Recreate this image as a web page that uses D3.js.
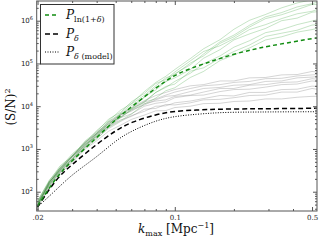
<!DOCTYPE html>
<html>
<head>
<script src="https://d3js.org/d3.v7.min.js"></script>
<style>
  body { margin: 0; background: #fff; }
  svg { display: block; }
</style>
</head>
<body>
<div id="chart"></div>
<script>
// mean / model curves
var kMean = [0.02, 0.025, 0.03, 0.04, 0.05, 0.06, 0.08, 0.1, 0.13, 0.16, 0.2, 0.25, 0.3, 0.4, 0.5, 0.53];
var pLnMean = [46, 227, 537, 1850, 4890, 9570, 26700, 55200, 87000, 120000, 166000, 212000, 256000, 318000, 384000, 394000];
var pDeltaMean = [44, 209, 432, 1306, 2700, 4270, 6400, 7730, 8150, 8500, 8600, 8700, 8750, 8850, 8930, 8930];
var pModel = [44, 113, 255, 641, 1578, 2630, 4640, 5840, 6500, 7010, 7250, 7300, 7350, 7400, 7430, 7430];

// individual realisations
var kRuns = [0.02, 0.023, 0.026, 0.03, 0.035, 0.04, 0.046, 0.053, 0.06, 0.07, 0.08, 0.09, 0.1, 0.12, 0.14, 0.17, 0.2, 0.24, 0.29, 0.35, 0.42, 0.5, 0.53];
var lnRuns = [
  [5.9e1, 1.9e2, 3.6e2, 7.6e2, 1.4e3, 2.7e3, 4.6e3, 8.1e3, 1.15e4, 2.2e4, 3.6e4, 5.0e4, 7.2e4, 1.3e5, 2.2e5, 3.6e5, 6.3e5, 1.02e6, 1.4e6, 2.0e6, 2.6e6, 3.1e6, 3.4e6],
  [5.4e1, 1.6e2, 3.7e2, 6.5e2, 1.45e3, 2.3e3, 4.4e3, 6.8e3, 1.12e4, 1.8e4, 3.0e4, 4.6e4, 5.5e4, 1.02e5, 1.5e5, 2.95e5, 4.2e5, 7.1e5, 1.12e6, 1.38e6, 1.82e6, 2.4e6, 2.4e6],
  [4.9e1, 1.74e2, 3.0e2, 6.6e2, 1.17e3, 2.34e3, 3.8e3, 6.6e3, 8.7e3, 1.66e4, 2.4e4, 3.8e4, 4.6e4, 7.2e4, 1.32e5, 2.1e5, 3.55e5, 4.9e5, 6.6e5, 1.0e6, 1.15e6, 1.58e6, 1.62e6],
  [5.1e1, 1.45e2, 3.4e2, 5.75e2, 1.29e3, 1.95e3, 3.6e3, 5.5e3, 8.5e3, 1.29e4, 2.1e4, 2.75e4, 3.8e4, 5.9e4, 9.8e4, 1.5e5, 2.4e5, 3.4e5, 5.25e5, 6.2e5, 8.1e5, 9.8e5, 1.05e6],
  [4.6e1, 1.35e2, 2.95e2, 5.1e2, 1.07e3, 1.7e3, 3.2e3, 4.6e3, 6.5e3, 1.12e4, 1.55e4, 2.3e4, 2.7e4, 4.7e4, 6.5e4, 1.17e5, 1.58e5, 2.3e5, 3.55e5, 4.2e5, 5.4e5, 6.2e5, 6.6e5],
  [5.6e1, 1.5e2, 3.3e2, 5.6e2, 1.15e3, 2.2e3, 3.4e3, 6.2e3, 1.02e4, 1.6e4, 2.75e4, 3.7e4, 5.75e4, 9.3e4, 1.66e5, 3.2e5, 4.6e5, 7.8e5, 1.23e6, 1.55e6, 2.1e6, 2.5e6, 2.7e6],
  [4.8e1, 1.7e2, 3.2e2, 6.9e2, 1.32e3, 2.0e3, 4.2e3, 5.4e3, 8.1e3, 1.23e4, 2.1e4, 2.9e4, 3.3e4, 6.6e4, 7.9e4, 1.32e5, 1.9e5, 2.7e5, 4.3e5, 5.1e5, 6.0e5, 7.9e5, 8.1e5],
  [6.2e1, 1.78e2, 4.0e2, 6.8e2, 1.55e3, 2.5e3, 5.0e3, 7.2e3, 1.26e4, 2.0e4, 3.4e4, 4.2e4, 6.3e4, 1.15e5, 1.9e5, 2.6e5, 3.8e5, 6.2e5, 8.1e5, 1.12e6, 1.45e6, 1.66e6, 1.82e6]
];
var deltaRuns = [
  [5.5e1, 1.78e2, 3.3e2, 7.1e2, 1.35e3, 2.5e3, 3.9e3, 6.6e3, 9.3e3, 1.35e4, 1.78e4, 2.1e4, 2.45e4, 3.0e4, 3.2e4, 3.9e4, 3.9e4, 4.6e4, 4.7e4, 5.4e4, 5.5e4, 6.5e4, 6.3e4],
  [4.9e1, 1.62e2, 3.5e2, 6.3e2, 1.38e3, 2.2e3, 3.9e3, 5.6e3, 8.1e3, 1.07e4, 1.41e4, 1.7e4, 1.78e4, 2.2e4, 2.6e4, 2.75e4, 3.1e4, 3.2e4, 3.8e4, 3.9e4, 4.6e4, 4.8e4, 4.9e4],
  [4.6e1, 1.58e2, 2.9e2, 6.0e2, 1.1e3, 2.1e3, 3.2e3, 5.4e3, 6.6e3, 1.0e4, 1.17e4, 1.26e4, 1.58e4, 1.78e4, 1.82e4, 2.2e4, 2.45e4, 2.5e4, 2.8e4, 3.2e4, 3.3e4, 3.9e4, 3.8e4],
  [5.1e1, 1.41e2, 3.1e2, 5.4e2, 1.15e3, 1.78e3, 3.0e3, 4.4e3, 6.0e3, 7.6e3, 1.0e4, 1.02e4, 1.2e4, 1.32e4, 1.51e4, 1.78e4, 1.74e4, 2.1e4, 2.1e4, 2.45e4, 2.5e4, 2.95e4, 2.9e4],
  [4.3e1, 1.26e2, 2.7e2, 4.8e2, 1.0e3, 1.55e3, 2.6e3, 3.6e3, 4.9e3, 6.2e3, 7.8e3, 7.9e3, 9.3e3, 1.0e4, 1.15e4, 1.17e4, 1.29e4, 1.32e4, 1.48e4, 1.48e4, 1.62e4, 1.7e4, 1.7e4],
  [5.2e1, 1.51e2, 2.75e2, 5.9e2, 1.26e3, 1.9e3, 3.4e3, 4.8e3, 5.75e3, 8.5e3, 8.9e3, 1.1e4, 1.07e4, 1.2e4, 1.41e4, 1.45e4, 1.58e4, 1.78e4, 1.82e4, 2.14e4, 2.14e4, 2.6e4, 2.5e4],
  [4.7e1, 1.7e2, 3.2e2, 6.8e2, 1.23e3, 2.3e3, 3.5e3, 6.2e3, 7.6e3, 1.15e4, 1.32e4, 1.41e4, 1.7e4, 1.82e4, 2.14e4, 2.6e4, 2.6e4, 3.1e4, 3.2e4, 3.6e4, 3.7e4, 4.4e4, 4.3e4],
  [5.75e1, 1.66e2, 3.6e2, 6.6e2, 1.48e3, 2.3e3, 4.3e3, 6.3e3, 8.7e3, 1.26e4, 1.48e4, 1.82e4, 2.14e4, 2.6e4, 3.0e4, 3.2e4, 3.6e4, 3.8e4, 4.4e4, 4.5e4, 5.1e4, 5.4e4, 5.5e4]
];

var xTicks = [0.02, 0.1, 0.5];
var xTickLabels = [".02", "0.1", "0.5"];
var xMinor = [0.03, 0.04, 0.05, 0.06, 0.07, 0.08, 0.09, 0.2, 0.3, 0.4];
var yTicks = [1e2, 1e3, 1e4, 1e5, 1e6];
var yExp = ["2", "3", "4", "5", "6"];

var W = 320, H = 240;
var pL = 36.7, pR = 317, pT = 1, pB = 211;

var svg = d3.select("#chart").append("svg")
    .attr("width", W).attr("height", H);

var x = d3.scaleLog().domain([0.0198, 0.53]).range([pL, pR]);
var y = d3.scaleLog().domain([35.4, 2.89e6]).range([pB, pT]);

svg.append("clipPath").attr("id", "clip")
  .append("rect").attr("x", pL).attr("y", pT)
  .attr("width", pR - pL).attr("height", pB - pT);

var plot = svg.append("g").attr("clip-path", "url(#clip)");

function lineFor(ks, curve) {
  return d3.line()
    .x(function(d, i) { return x(ks[i]); })
    .y(function(d) { return y(d); })
    .curve(curve);
}

var runLine = lineFor(kRuns, d3.curveLinear);
var meanLine = lineFor(kMean, d3.curveBasis);

plot.selectAll(".grey").data(deltaRuns).enter().append("path")
  .attr("d", runLine).attr("fill", "none")
  .attr("stroke", "#808080").attr("stroke-opacity", 0.42).attr("stroke-width", 0.8);

plot.selectAll(".green").data(lnRuns).enter().append("path")
  .attr("d", runLine).attr("fill", "none")
  .attr("stroke", "#38a038").attr("stroke-opacity", 0.36).attr("stroke-width", 0.8);

plot.append("path").attr("d", meanLine(pModel)).attr("fill", "none")
  .attr("stroke", "#000").attr("stroke-width", 1).attr("stroke-dasharray", "1,1.5");
plot.append("path").attr("d", meanLine(pDeltaMean)).attr("fill", "none")
  .attr("stroke", "#000").attr("stroke-width", 1.5).attr("stroke-dasharray", "5,3");
plot.append("path").attr("d", meanLine(pLnMean)).attr("fill", "none")
  .attr("stroke", "#118c11").attr("stroke-width", 1.5).attr("stroke-dasharray", "4,3");

// frame
svg.append("rect").attr("x", pL).attr("y", pT)
  .attr("width", pR - pL).attr("height", pB - pT)
  .attr("fill", "none").attr("stroke", "#555").attr("stroke-width", 1);

// ticks (inward, all four sides)
function styleAxis(g) {
  g.select(".domain").remove();
  g.selectAll("line").attr("stroke", "#555");
}
svg.append("g").attr("transform", "translate(0," + pB + ")")
  .call(d3.axisBottom(x).tickValues(xTicks).tickSize(-4).tickPadding(4)
    .tickFormat(function(d, i) { return xTickLabels[i]; }))
  .call(styleAxis)
  .selectAll("text").attr("font-family", "DejaVu Serif").attr("font-size", 7).attr("fill", "#222");
svg.append("g").attr("transform", "translate(0," + pB + ")")
  .call(d3.axisBottom(x).tickValues(xMinor).tickSize(-2).tickFormat(""))
  .call(styleAxis);
svg.append("g").attr("transform", "translate(0," + pT + ")")
  .call(d3.axisTop(x).tickValues(xTicks).tickSize(-4).tickFormat(""))
  .call(styleAxis);
svg.append("g").attr("transform", "translate(0," + pT + ")")
  .call(d3.axisTop(x).tickValues(xMinor).tickSize(-2).tickFormat(""))
  .call(styleAxis);

var yMinor = [];
[1e1, 1e2, 1e3, 1e4, 1e5, 1e6].forEach(function(b) {
  for (var m = 2; m <= 9; m++) {
    var v = b * m;
    if (v > y.domain()[0] && v < y.domain()[1]) yMinor.push(v);
  }
});

svg.append("g").attr("transform", "translate(" + pL + ",0)")
  .call(d3.axisLeft(y).tickValues(yTicks).tickSize(-4).tickFormat(""))
  .call(styleAxis);
svg.append("g").attr("transform", "translate(" + pL + ",0)")
  .call(d3.axisLeft(y).tickValues(yMinor).tickSize(-2).tickFormat(""))
  .call(styleAxis);
svg.append("g").attr("transform", "translate(" + pR + ",0)")
  .call(d3.axisRight(y).tickValues(yTicks).tickSize(-4).tickFormat(""))
  .call(styleAxis);
svg.append("g").attr("transform", "translate(" + pR + ",0)")
  .call(d3.axisRight(y).tickValues(yMinor).tickSize(-2).tickFormat(""))
  .call(styleAxis);

// y tick labels 10^n
var ylab = svg.append("g").selectAll("text").data(yTicks).enter().append("text")
  .attr("x", 33).attr("y", function(d) { return y(d) + 2.5; })
  .attr("text-anchor", "end")
  .attr("font-family", "DejaVu Sans").attr("font-size", 7).attr("fill", "#222");
ylab.append("tspan").text("10");
ylab.append("tspan").attr("font-size", 5).attr("dy", -3).text(function(d, i) { return yExp[i]; });

// axis titles
var xt = svg.append("text").attr("x", 176).attr("y", 233)
  .attr("text-anchor", "middle").attr("font-family", "DejaVu Serif").attr("font-size", 12).attr("fill", "#111");
xt.append("tspan").attr("font-style", "italic").text("k");
xt.append("tspan").attr("font-size", 8).attr("dy", 3).text("max");
xt.append("tspan").attr("dy", -3).text(" [Mpc");
xt.append("tspan").attr("font-size", 8).attr("dy", -5).text("\u22121");
xt.append("tspan").attr("dy", 5).text("]");

var yt = svg.append("text").attr("transform", "translate(15,107) rotate(-90)")
  .attr("text-anchor", "middle").attr("font-family", "DejaVu Serif").attr("font-size", 12).attr("fill", "#111");
yt.append("tspan").text("(S/N)");
yt.append("tspan").attr("font-size", 8).attr("dy", -5).text("2");

// legend
var lg = svg.append("g");
lg.append("rect").attr("x", 40.5).attr("y", 4.5).attr("width", 73.5).attr("height", 59.5)
  .attr("fill", "#fff").attr("stroke", "#333").attr("stroke-width", 1);

var legendItems = [
  { color: "#118c11", width: 1.5, dash: "4,3", sub: [["ln(1+", "normal"], ["\u03b4", "italic"], [")", "normal"]] },
  { color: "#000", width: 1.5, dash: "5,3", sub: [["\u03b4", "italic"]] },
  { color: "#000", width: 1, dash: "1,1.5", sub: [["\u03b4", "italic"], [" (model)", "normal"]] }
];
var rowY = [15, 34, 52];
legendItems.forEach(function(it, i) {
  lg.append("line").attr("x1", 45).attr("x2", 59).attr("y1", rowY[i]).attr("y2", rowY[i])
    .attr("stroke", it.color).attr("stroke-width", it.width).attr("stroke-dasharray", it.dash);
  var t = lg.append("text").attr("x", 66).attr("y", rowY[i] + 4)
    .attr("font-family", "DejaVu Serif").attr("font-size", 12).attr("fill", "#111");
  t.append("tspan").attr("font-style", "italic").text("P");
  it.sub.forEach(function(s, j) {
    t.append("tspan").attr("font-size", 8).attr("font-style", s[1])
      .attr("dy", j === 0 ? 3 : 0).text(s[0]);
  });
});
</script>
</body>
</html>
